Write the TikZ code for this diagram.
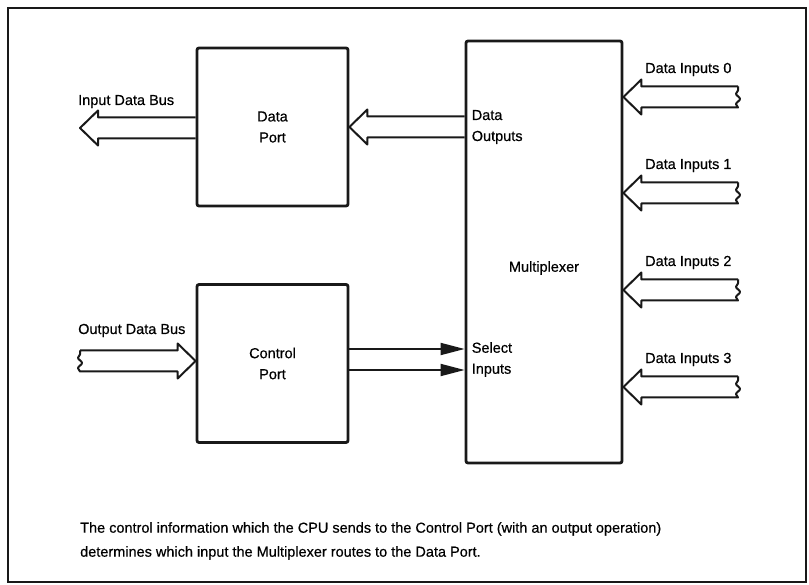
\documentclass[tikz,border=0pt]{standalone}
\usepackage{fontspec}
\setmainfont{Liberation Sans}[FakeBold=0.5]
\usetikzlibrary{arrows.meta,positioning,calc,decorations.pathmorphing}
\tikzset{
  portbox/.style={draw=black!90,line width=2.8pt,rounded corners=2pt,
    minimum width=151pt,minimum height=158pt,align=center,
    font=\fontsize{14.5}{21}\selectfont},
  textlbl/.style={align=left,inner sep=0pt,font=\fontsize{14.5}{21}\selectfont},
  buslabel/.style={inner sep=0pt,font=\fontsize{14.5}{16}\selectfont},
  busline/.style={draw=black!90,line width=2pt,line join=round},
  selarrow/.style={-{Triangle[length=24pt,width=12pt]},
    line width=1.8pt,draw=black!90},
  squiggle/.style={decoration={snake,amplitude=2pt,segment length=10.5pt}},
}
% hollow bus arrow: [tail] {tail point} {tip node}
\newcommand{\busw}{10.5}
\newcommand{\bush}{17.5}
\newcommand{\busl}{18}
\newcommand{\wavytail}{decorate[squiggle]{-- (\x1,\y1+\busw pt)}}
\newcommand{\busarrow}[3][]{%
  \draw[busline] let \p1=(#2), \p2=(#3 |- #2), \n1={sign(\x2-\x1)} in
    (\x1,\y1+\busw pt) -- (\x2-\n1*\busl pt,\y1+\busw pt)
    -- (\x2-\n1*\busl pt,\y1+\bush pt) -- (\x2,\y1)
    -- (\x2-\n1*\busl pt,\y1-\bush pt) -- (\x2-\n1*\busl pt,\y1-\busw pt)
    -- (\x1,\y1-\busw pt) #1;}

\begin{document}
\begin{tikzpicture}[x=1pt,y=-1pt]
  \useasboundingbox (0,0) rectangle (809,585);
  \draw[line width=2pt,draw=black!90] (8,8) rectangle (806,582);

  \node[portbox] (dport) at (272.5,127) {Data\\Port};
  \node[portbox] (cport) at (272.5,363.5) {Control\\Port};
  \node[portbox,minimum width=156pt,minimum height=422pt] (mux) at (544,252) {};
  \node[textlbl] (muxlab) at (544,268) {Multiplexer};

  % data port side
  \coordinate (inbus) at (80,128);
  \coordinate (dout) at (mux.west |- dport.center);
  \coordinate (din) at (dport.west |- inbus);
  \busarrow{din}{inbus}
  \busarrow{dout}{dport.east}
  \node[buslabel,anchor=base west] (inlab) at (78,105) {Input Data Bus};
  \node[textlbl,anchor=west] (doutlab) at ([xshift=7pt]dout) {Data\\Outputs};

  % control port side
  \coordinate (outbus) at (80,361);
  \busarrow[\wavytail]{outbus}{cport.west}
  \node[buslabel,anchor=base west] (outlab) at (78,334) {Output Data Bus};
  \coordinate (sel1) at (cport.east |- 0,349);
  \coordinate (sel2) at (cport.east |- 0,370);
  \draw[selarrow] (sel1) -- (sel1 -| mux.west);
  \draw[selarrow] (sel2) -- (sel2 -| mux.west);
  \node[textlbl,anchor=west] (sellab) at ([xshift=7pt]$(sel1 -| mux.west)!0.5!(sel2 -| mux.west)$) {Select\\Inputs};

  % multiplexer inputs
  \foreach \i/\y in {0/97,1/193,2/290,3/387}{
    \coordinate (din\i) at (738,\y);
    \busarrow[\wavytail]{din\i}{mux.east}
    \node[buslabel,anchor=base west] (dinlab\i) at (645,\y-24) {Data Inputs \i};
  }

  \node[textlbl,anchor=north west,font=\fontsize{14.5}{24}\selectfont] (caption) at (80,522)
    {The control information which the CPU sends to the Control Port (with an output operation)\\
     determines which input the Multiplexer routes to the Data Port.};
\end{tikzpicture}
\end{document}
